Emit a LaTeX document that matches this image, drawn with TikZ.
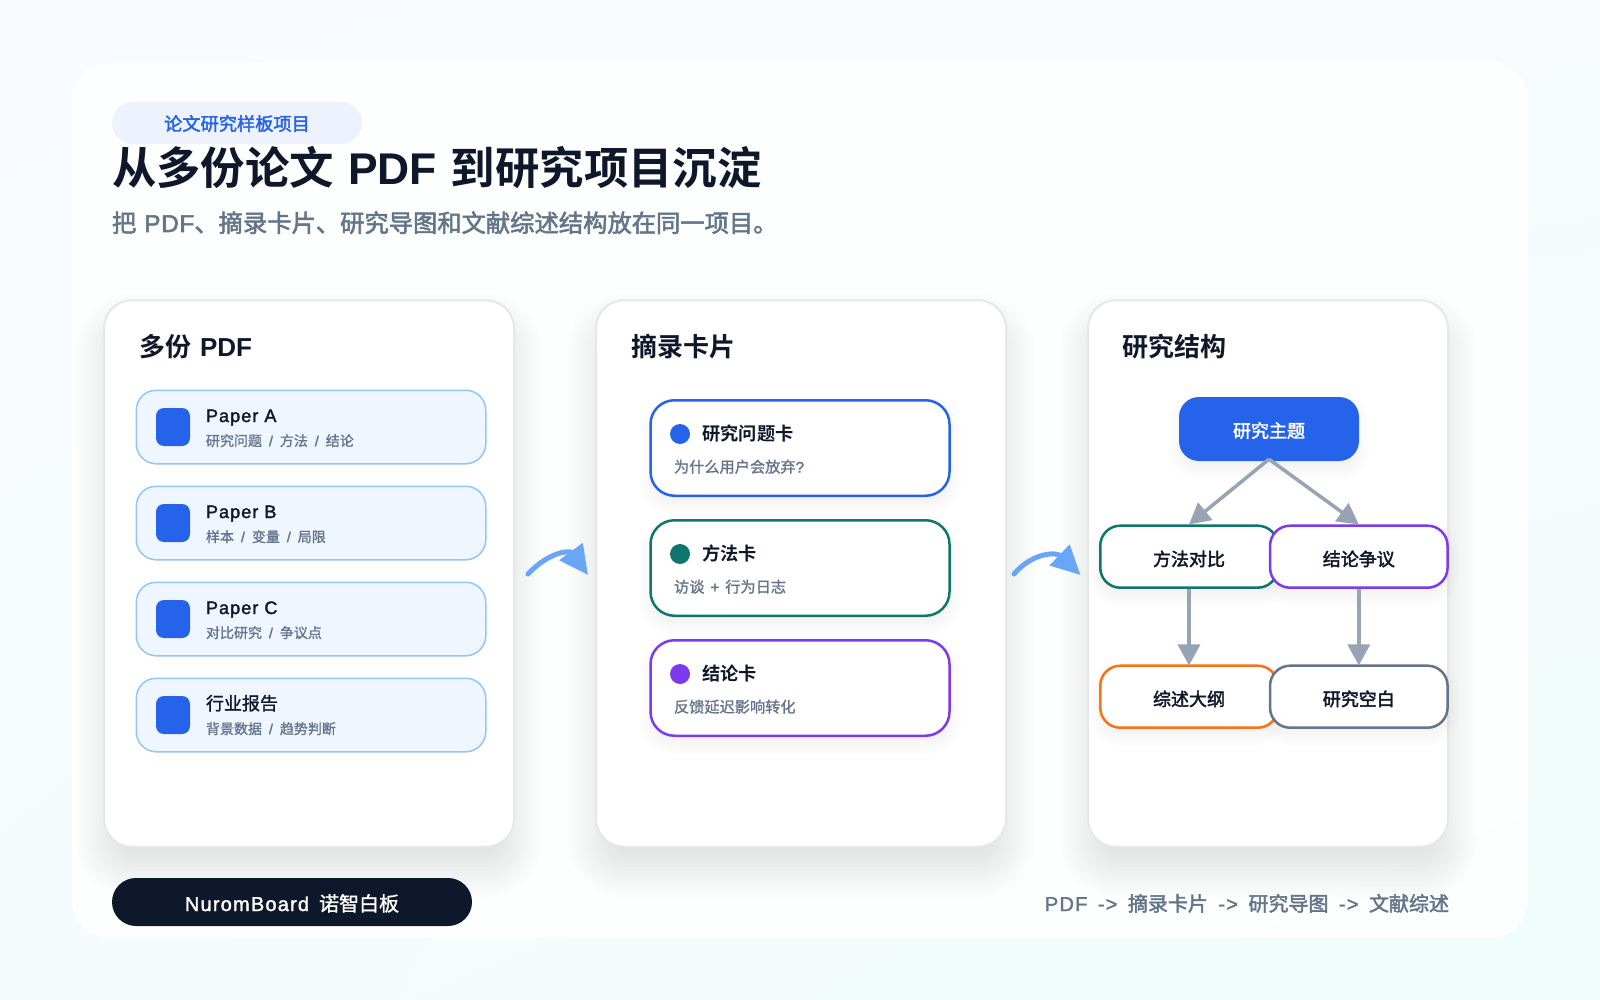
\documentclass[tikz,border=0pt]{standalone}
\usepackage{fontspec}
\usetikzlibrary{arrows.meta,shadings}
\setmainfont{Noto Sans CJK SC}
\newfontfamily\cmed{Noto Sans CJK SC}[FakeBold=1.2]
\newfontfamily\csem{Noto Sans CJK SC}[FakeBold=2.2]
\newfontfamily\cbld{Noto Sans CJK SC Bold}
\newfontfamily\lmed{Liberation Sans}[LetterSpace=3,FakeBold=2.2]
\newfontfamily\litem{Liberation Sans}[LetterSpace=6,FakeBold=1.8]
\newfontfamily\lbld{Liberation Sans Bold}
\newcommand\fsz[1]{\fontsize{#1}{#1}\selectfont}
\newcommand\slsh{\hspace{7pt}{\lmed /}\hspace{7pt}}
\definecolor{ink}{HTML}{0F172A}
\definecolor{muted}{HTML}{64748B}
\definecolor{blue}{HTML}{2563EB}
\definecolor{teal}{HTML}{0F766E}
\definecolor{violet}{HTML}{7C3AED}
\definecolor{orange}{HTML}{F97316}
\definecolor{slate}{HTML}{64748B}
\definecolor{linkgray}{HTML}{98A3B3}
\definecolor{flow}{HTML}{69A6F8}
\definecolor{itemline}{HTML}{93C5FD}
\definecolor{itemfill}{HTML}{EFF6FF}
\definecolor{tagfill}{HTML}{EEF2FF}
\definecolor{cardline}{HTML}{E5E7EB}
\definecolor{bgul}{HTML}{F8FBFF}
\definecolor{bgur}{HTML}{F7FBFD}
\definecolor{bgll}{HTML}{F5FBFC}
\definecolor{bglr}{HTML}{F0FDFA}
\tikzset{
  lbl/.style={inner sep=0pt,outer sep=0pt},
  cardbox/.style={draw=#1,line width=2.5pt,fill=white,rounded corners=24pt,minimum width=299pt,minimum height=95.5pt,inner sep=0pt},
  panelcard/.style={draw=cardline,line width=2pt,fill=white,rounded corners=28pt,minimum height=546.5pt,inner sep=0pt},
  itembox/.style={draw=itemline,line width=1.5pt,fill=itemfill,rounded corners=20pt,minimum width=349.5pt,minimum height=73.5pt,inner sep=0pt},
  iconbox/.style={fill=blue,rounded corners=8pt,minimum width=34pt,minimum height=38pt,inner sep=0pt},
  dotmark/.style={circle,fill=#1,minimum size=20pt,inner sep=0pt},
  mapbox/.style={draw=#1,line width=2.5pt,fill=white,rounded corners=20pt,minimum width=177.5pt,minimum height=62pt,inner sep=0pt,font=\csem\fsz{18},text=ink,text height=18.2pt,text depth=0pt},
  flowarrow/.style={draw=flow,line width=5pt,line cap=round,-{Triangle[length=29pt,width=28pt,fill=flow]}},
  linkarrow/.style={draw=linkgray,line width=3.5pt,-{Triangle[length=21pt,width=22pt,fill=linkgray]}},
}
\newcommand\softshadow[8]{%
  \foreach \i in {1,...,16}{%
    \pgfmathsetmacro\s{#7*(1-2*(\i-0.5)/16)}%
    \pgfmathsetmacro\rr{max(#5+\s,1)}%
    \fill[ink,fill opacity=#8/16,rounded corners=\rr pt]
      (#1-\s,#2+#6-\s) rectangle (#3+\s,#4+#6+\s);
  }%
}
\begin{document}
\begin{tikzpicture}[x=1pt,y=-1pt]
\useasboundingbox (0,0) rectangle (1600,1000);
\shade[upper left=bgul,upper right=bgur,lower left=bgll,lower right=bglr] (0,0) rectangle (1600,1000);
\fill[white,fill opacity=0.85,rounded corners=38pt] (72,62) rectangle (1528,938);

% pill and headings
\node[fill=tagfill,rounded corners=21pt,minimum width=250pt,minimum height=42pt,inner sep=0pt] (tag) at (237,123) {};
\node[lbl,anchor=base,text=blue] (tagt) at (237,130.5) {\csem\fsz{18.2}论文研究样板项目};
\node[lbl,anchor=base west,text=ink] (title) at (112,185) {\cbld\fsz{44.4}从多份论文\hspace{14pt}{\lbld PDF}\hspace{14pt}到研究项目沉淀};
\node[lbl,anchor=base west,text=muted] (subtitle) at (112,232) {\csem\fsz{24.3}把\hspace{8pt}{\lmed PDF}、摘录卡片、研究导图和文献综述结构放在同一项目。};

% card shadows
\softshadow{104}{300}{514}{847}{28}{22}{30}{0.11}
\softshadow{596}{300}{1006}{847}{28}{22}{30}{0.11}
\softshadow{1088}{300}{1448}{847}{28}{22}{30}{0.11}

% cards
\node[panelcard,minimum width=410pt] (c1) at (309,573.5) {};
\node[panelcard,minimum width=410pt] (c2) at (801,573.5) {};
\node[panelcard,minimum width=360pt] (c3) at (1268,573.5) {};
\node[lbl,anchor=base west,text=ink] (c1t) at (139,356) {\cbld\fsz{26}多份\hspace{9pt}{\lbld PDF}};
\node[lbl,anchor=base west,text=ink] (c2t) at (631,356) {\cbld\fsz{26}摘录卡片};
\node[lbl,anchor=base west,text=ink] (c3t) at (1122.5,356) {\cbld\fsz{26}研究结构};

% left items
\node[itembox] (i1) at (311,427) {};
\node[itembox] (i2) at (311,523) {};
\node[itembox] (i3) at (311,619) {};
\node[itembox] (i4) at (311,715) {};
\node[iconbox] (k1) at (173,427) {};
\node[iconbox] (k2) at (173,523) {};
\node[iconbox] (k3) at (173,619) {};
\node[iconbox] (k4) at (173,715) {};
\node[lbl,anchor=base west,text=ink] (t1) at (206,422) {\litem\fsz{18}Paper A};
\node[lbl,anchor=base west,text=ink] (t2) at (206,518) {\litem\fsz{18}Paper B};
\node[lbl,anchor=base west,text=ink] (t3) at (206,614) {\litem\fsz{18}Paper C};
\node[lbl,anchor=base west,text=ink] (t4) at (206,710) {\cmed\fsz{18}行业报告};
\node[lbl,anchor=base west,text=muted] (s1) at (206,446) {\cmed\fsz{14}研究问题\slsh 方法\slsh 结论};
\node[lbl,anchor=base west,text=muted] (s2) at (206,542) {\cmed\fsz{14}样本\slsh 变量\slsh 局限};
\node[lbl,anchor=base west,text=muted] (s3) at (206,638) {\cmed\fsz{14}对比研究\slsh 争议点};
\node[lbl,anchor=base west,text=muted] (s4) at (206,734) {\cmed\fsz{14}背景数据\slsh 趋势判断};

% middle cards
\softshadow{650}{399.5}{951}{496}{24}{8}{12}{0.08}
\softshadow{650}{519.5}{951}{616}{24}{8}{12}{0.08}
\softshadow{650}{639.5}{951}{736}{24}{8}{12}{0.08}
\node[cardbox=blue] (m1) at (800,448) {};
\node[cardbox=teal] (m2) at (800,568) {};
\node[cardbox=violet] (m3) at (800,688) {};
\node[dotmark=blue] (d1) at (680,434) {};
\node[dotmark=teal] (d2) at (680,554) {};
\node[dotmark=violet] (d3) at (680,674) {};
\node[lbl,anchor=base west,text=ink] (mt1) at (702.5,440) {\cbld\fsz{18.2}研究问题卡};
\node[lbl,anchor=base west,text=ink] (mt2) at (702.5,560) {\cbld\fsz{18.2}方法卡};
\node[lbl,anchor=base west,text=ink] (mt3) at (702.5,680) {\cbld\fsz{18.2}结论卡};
\node[lbl,anchor=base west,text=muted] (ms1) at (674,472.5) {\cmed\fsz{15.2}为什么用户会放弃{\lmed ?}};
\node[lbl,anchor=base west,text=muted] (ms2) at (674,592.5) {\cmed\fsz{15.2}访谈\hspace{6pt}{\lmed +}\hspace{6pt}行为日志};
\node[lbl,anchor=base west,text=muted] (ms3) at (674,712.5) {\cmed\fsz{15.2}反馈延迟影响转化};

% flow arrows
\coordinate (a1s) at (528,574);
\coordinate (a1e) at (588,575);
\coordinate (a2s) at (1014,574);
\coordinate (a2e) at (1080.5,575);
\draw[flowarrow] (a1s) .. controls (549.3,551.3) and (570,550.3) .. (a1e);
\draw[flowarrow] (a2s) .. controls (1033,552) and (1056.5,552) .. (a2e);

% right map
\softshadow{1179}{397}{1359}{461}{18}{8}{12}{0.08}
\softshadow{1099.5}{525.5}{1276.5}{588}{20}{8}{12}{0.08}
\softshadow{1270.5}{525.5}{1447.5}{588}{20}{8}{12}{0.08}
\softshadow{1099.5}{665}{1276.5}{728}{20}{8}{12}{0.08}
\softshadow{1270.5}{665}{1447.5}{728}{20}{8}{12}{0.08}
\node[fill=blue,rounded corners=20pt,minimum width=180pt,minimum height=64pt,inner sep=0pt,text=white,font=\csem\fsz{18},text height=16.9pt,text depth=0pt] (root) at (1269,429) {研究主题};
\node[mapbox=teal] (method) at (1189,556.7) {方法对比};
\node[mapbox=violet] (dispute) at (1358.8,556.7) {结论争议};
\node[mapbox=orange] (outline) at (1189,696.7) {综述大纲};
\node[mapbox=slate] (gap) at (1358.8,696.7) {研究空白};
\draw[linkarrow] ([yshift=2pt]root.south) -- (method.north);
\draw[linkarrow] ([yshift=2pt]root.south) -- (dispute.north);
\draw[linkarrow] (method.south) -- ([yshift=-1pt]outline.north);
\draw[linkarrow] (dispute.south) -- ([yshift=-1pt]gap.north);

% footer
\node[fill=ink,rounded corners=24pt,minimum width=360pt,minimum height=48pt,inner sep=0pt] (brand) at (292,902) {};
\node[lbl,anchor=base,text=white] (brandt) at (292,911) {\fsz{20}\litem NuromBoard\hspace{10pt}{\cmed 诺智白板}};
\node[lbl,anchor=base east,text=muted] (path) at (1449,911) {\fsz{20}\litem PDF\hspace{10.5pt}->\hspace{10.5pt}{\csem 摘录卡片}\hspace{10.5pt}->\hspace{10.5pt}{\csem 研究导图}\hspace{10.5pt}->\hspace{10.5pt}{\csem 文献综述}};
\end{tikzpicture}
\end{document}
